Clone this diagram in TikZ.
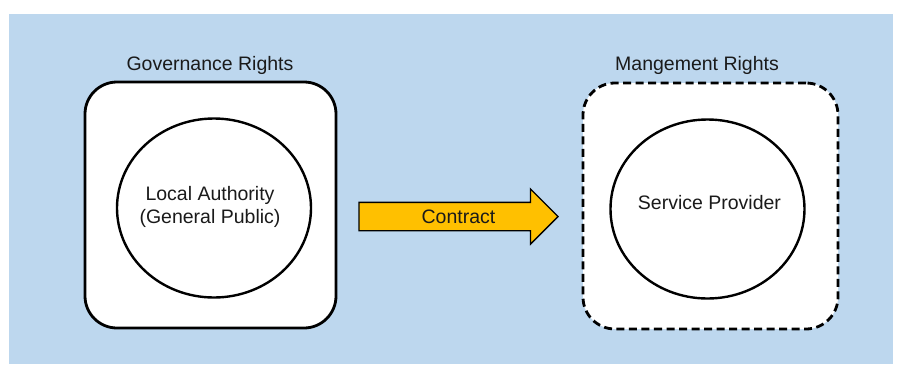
\documentclass[tikz,border=0pt]{standalone}
\usepackage{fontspec}
\setmainfont{Liberation Sans}
\usetikzlibrary{shapes.geometric,shapes.arrows}
\definecolor{bgblue}{HTML}{BDD7EE}
\definecolor{arrowgold}{HTML}{FFC000}
\definecolor{txt}{HTML}{1A1A1A}
\begin{document}
\begin{tikzpicture}[x=1pt,y=-1pt,
  font=\fontsize{19.5}{22.5}\selectfont,
  rightsbox/.style={rectangle,draw=black,fill=white,line width=2.8pt,rounded corners=32pt,inner sep=0pt},
  party/.style={ellipse,draw=black,fill=white,line width=2.4pt,inner sep=0pt,minimum width=194pt,minimum height=179pt},
  title/.style={text=txt,inner sep=0pt},
  contractarrow/.style={single arrow,draw=black,fill=arrowgold,line width=1.3pt,inner xsep=0pt,inner ysep=0pt,
    text height=20.5pt,text depth=6.5pt,single arrow head extend=13.5pt,minimum height=199pt,text=txt}
]
\useasboundingbox (0,0) rectangle (898,365);
\fill[bgblue] (9,14) rectangle (893,364);

\node[rightsbox,minimum width=251pt,minimum height=246pt] (gov) at (210.5,205) {};
\node[rightsbox,dashed,dash pattern=on 8pt off 4.5pt,minimum width=255pt,minimum height=246pt] (mgt) at (710.5,206) {};

\node[title] (govt) at (210,65) {Governance Rights};
\node[title] (mgtt) at (697,65) {Mangement Rights};

\node[party] (la) at (214,208) {};
\node[title,align=center] (lat) at ([xshift=-4pt,yshift=1pt]la.center) {Local Authority\\(General Public)};
\node[party] (sp) at (707.5,209) {};
\node[title] (spt) at ([xshift=2pt,yshift=6pt]sp.center) {Service Provider};

\node[contractarrow] (contract) at (451.5,216.5) {};
\node[title] (contractt) at (458.5,216.5) {Contract};
\end{tikzpicture}
\end{document}
